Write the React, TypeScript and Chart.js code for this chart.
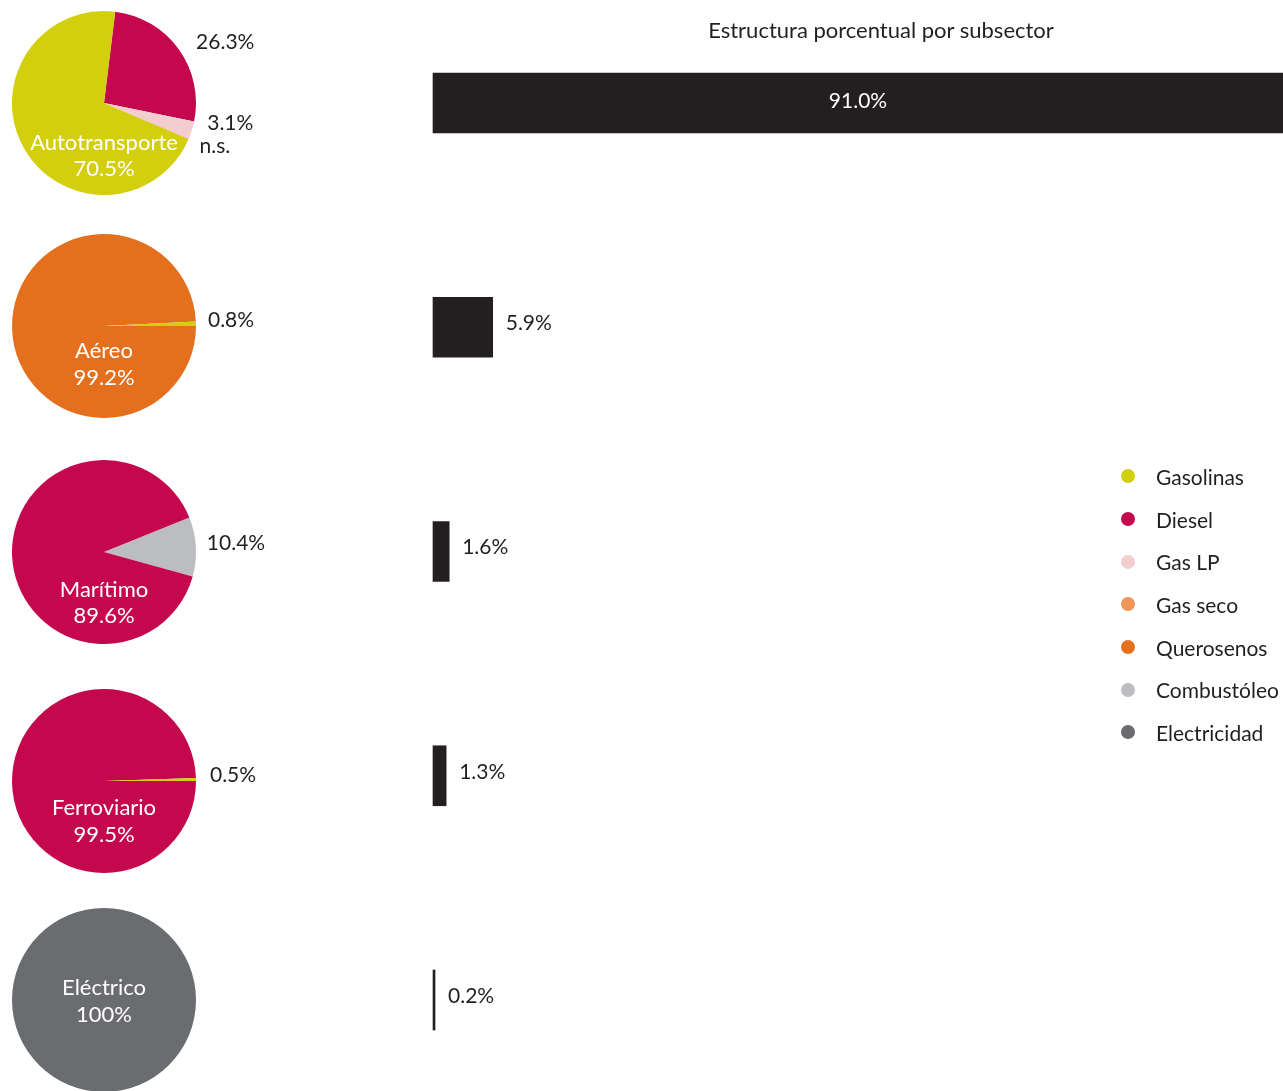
import React, { useEffect, useRef } from "react";
import { Chart, registerables } from "chart.js";

Chart.register(...registerables);

const FONT = "Lato, 'Open Sans', sans-serif";
const TEXT = "#231F20";
const BAR = "#231F20";

// Legend fuels and colours
const fuels = ["Gasolinas", "Diesel", "Gas LP", "Gas seco", "Querosenos", "Combustóleo", "Electricidad"];
const fuelColors = ["#D4CF0E", "#C5084E", "#F3CDD0", "#EF9658", "#E4701E", "#BCBDC0", "#6B6C6F"];

// Bar chart: share per subsector
const subsectors = ["Autotransporte", "Aéreo", "Marítimo", "Ferroviario", "Eléctrico"];
const subsectorShare = [91.0, 5.9, 1.6, 1.3, 0.2];
const subsectorShareLabels = ["91.0%", "5.9%", "1.6%", "1.3%", "0.2%"];

// Pie charts: fuel mix per subsector (clockwise order)
const autoFuels = ["Diesel", "Gas LP", "Gas seco", "Gasolinas"];
const autoValues = [26.3, 3.1, 0.1, 70.5];
const autoLabels = ["26.3%", "3.1%", "n.s.", "70.5%"];

const aereoFuels = ["Querosenos", "Gasolinas"];
const aereoValues = [99.2, 0.8];
const aereoLabels = ["99.2%", "0.8%"];

const maritimoFuels = ["Combustóleo", "Diesel"];
const maritimoValues = [10.4, 89.6];
const maritimoLabels = ["10.4%", "89.6%"];

const ferroFuels = ["Diesel", "Gasolinas"];
const ferroValues = [99.5, 0.5];
const ferroLabels = ["99.5%", "0.5%"];

const electFuels = ["Electricidad"];
const electValues = [100];
const electLabels = ["100%"];

type PieSpec = {
  name: string;
  fuels: string[];
  values: number[];
  labels: string[];
  main: number;
  rotation: number;
  centerY: number;
  innerDy: [number, number];
  outerDx: number[];
  outerDy: number[];
};

const pieSpecs: PieSpec[] = [
  { name: subsectors[0], fuels: autoFuels, values: autoValues, labels: autoLabels, main: 3, rotation: 7, centerY: 103, innerDy: [40, 66], outerDx: [6, 2, -2, 0], outerDy: [1, -11, 2, 0] },
  { name: subsectors[1], fuels: aereoFuels, values: aereoValues, labels: aereoLabels, main: 0, rotation: 90, centerY: 326, innerDy: [25, 52], outerDx: [0, -2], outerDy: [0, -3] },
  { name: subsectors[2], fuels: maritimoFuels, values: maritimoValues, labels: maritimoLabels, main: 1, rotation: 68, centerY: 552, innerDy: [38, 64], outerDx: [-3, 0], outerDy: [-3, 0] },
  { name: subsectors[3], fuels: ferroFuels, values: ferroValues, labels: ferroLabels, main: 0, rotation: 90, centerY: 781, innerDy: [27, 54], outerDx: [0, 0], outerDy: [0, -4] },
  { name: subsectors[4], fuels: electFuels, values: electValues, labels: electLabels, main: 0, rotation: 0, centerY: 1000, innerDy: [-12, 15], outerDx: [0], outerDy: [0] },
];

const pieLabelPlugin = {
  id: "pieLabels",
  afterDatasetsDraw(chart: any, _args: any, opts: any) {
    const meta = chart.getDatasetMeta(0);
    const ctx = chart.ctx as CanvasRenderingContext2D;
    ctx.save();
    ctx.textBaseline = "middle";
    meta.data.forEach((arc: any, i: number) => {
      const p = arc.getProps(["x", "y", "startAngle", "endAngle", "outerRadius"], true);
      const label = opts.labels[i];
      if (i === opts.main) {
        ctx.font = `22px ${FONT}`;
        ctx.fillStyle = "#FFFFFF";
        ctx.textAlign = "center";
        ctx.fillText(opts.name, p.x, p.y + opts.innerDy[0]);
        ctx.fillText(label, p.x, p.y + opts.innerDy[1]);
      } else {
        ctx.font = `21px ${FONT}`;
        const mid = (p.startAngle + p.endAngle) / 2;
        const r = p.outerRadius + 14;
        ctx.fillStyle = TEXT;
        ctx.textAlign = "left";
        ctx.fillText(
          label,
          p.x + Math.cos(mid) * r + (opts.outerDx[i] || 0),
          p.y + Math.sin(mid) * r + (opts.outerDy[i] || 0)
        );
      }
    });
    ctx.restore();
  },
};

const barLabelPlugin = {
  id: "barLabels",
  afterDatasetsDraw(chart: any, _args: any, opts: any) {
    const meta = chart.getDatasetMeta(0);
    const ctx = chart.ctx as CanvasRenderingContext2D;
    const area = chart.chartArea;
    ctx.save();
    ctx.font = `21px ${FONT}`;
    ctx.textBaseline = "middle";
    meta.data.forEach((bar: any, i: number) => {
      const p = bar.getProps(["x", "y", "base"], true);
      const label = opts.labels[i];
      if (p.x > area.right) {
        ctx.fillStyle = "#FFFFFF";
        ctx.textAlign = "center";
        ctx.fillText(label, (p.base + area.right) / 2, p.y - 2);
      } else {
        ctx.fillStyle = TEXT;
        ctx.textAlign = "left";
        ctx.fillText(label, p.x + 13, p.y - 4);
      }
    });
    ctx.restore();
  },
};

function ChartCanvas({ make, left, top, width, height }: { make: (c: HTMLCanvasElement) => Chart; left: number; top: number; width: number; height: number }) {
  const ref = useRef<HTMLCanvasElement>(null);
  useEffect(() => {
    if (!ref.current) return;
    const chart = make(ref.current);
    return () => chart.destroy();
  }, []);
  return (
    <canvas
      ref={ref}
      width={width}
      height={height}
      style={{ position: "absolute", left, top, width, height, display: "block" }}
    />
  );
}

function makePie(spec: PieSpec) {
  return (canvas: HTMLCanvasElement) =>
    new Chart(canvas, {
      type: "pie",
      data: {
        labels: spec.fuels,
        datasets: [
          {
            data: spec.values,
            backgroundColor: spec.fuels.map((f) => fuelColors[fuels.indexOf(f)]),
            borderWidth: 0,
          },
        ],
      },
      options: {
        responsive: false,
        animation: false,
        rotation: spec.rotation,
        layout: { padding: { left: 12, right: 104, top: 8, bottom: 8 } },
        events: [],
        plugins: {
          legend: { display: false },
          tooltip: { enabled: false },
          pieLabels: {
            name: spec.name,
            labels: spec.labels,
            main: spec.main,
            innerDy: spec.innerDy,
            outerDx: spec.outerDx,
            outerDy: spec.outerDy,
          },
        } as any,
      },
      plugins: [pieLabelPlugin],
    });
}

function makeBar(canvas: HTMLCanvasElement) {
  return new Chart(canvas, {
    type: "bar",
    data: {
      labels: subsectors,
      datasets: [
        {
          data: subsectorShare,
          backgroundColor: BAR,
          borderWidth: 0,
          barThickness: 60,
          clip: false,
        } as any,
      ],
    },
    options: {
      indexAxis: "y",
      responsive: false,
      animation: false,
      events: [],
      layout: { padding: { left: 13, right: 0, top: 103, bottom: 91 } },
      scales: {
        x: { display: false, min: 0, max: 84, grid: { display: false } },
        y: { display: false, offset: false, grid: { display: false } },
      },
      plugins: {
        legend: { display: false },
        tooltip: { enabled: false },
        barLabels: { labels: subsectorShareLabels },
      } as any,
    },
    plugins: [barLabelPlugin],
  });
}

export default function App() {
  return (
    <div
      style={{
        position: "absolute",
        left: 0,
        top: 0,
        width: 1283,
        height: 1091,
        overflow: "hidden",
        background: "#FFFFFF",
        fontFamily: FONT,
        color: TEXT,
      }}
    >
      {pieSpecs.map((spec, i) => (
        <ChartCanvas key={i} make={makePie(spec)} left={0} top={spec.centerY - 100} width={300} height={200} />
      ))}
      <ChartCanvas make={makeBar} left={420} top={0} width={863} height={1091} />
      <div
        style={{
          position: "absolute",
          left: 681,
          width: 400,
          top: 16,
          textAlign: "center",
          fontSize: 22,
          lineHeight: "28px",
          whiteSpace: "nowrap",
        }}
      >
        Estructura porcentual por subsector
      </div>
      <div style={{ position: "absolute", left: 1121, top: 455 }}>
        {fuels.map((f, i) => (
          <div key={f} style={{ display: "flex", alignItems: "center", height: 42.7 }}>
            <span
              style={{
                display: "inline-block",
                width: 14,
                height: 14,
                borderRadius: "50%",
                background: fuelColors[i],
                marginRight: 21,
              }}
            />
            <span style={{ fontSize: 21, whiteSpace: "nowrap" }}>{f}</span>
          </div>
        ))}
      </div>
    </div>
  );
}
